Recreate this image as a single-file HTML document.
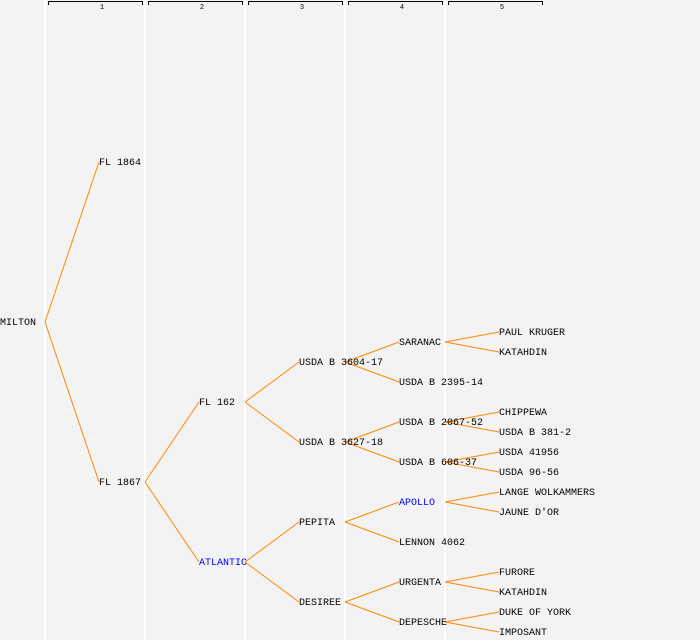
<!DOCTYPE html>
<html><head><style>body{margin:0;background:#f3f3f3}svg{display:block}</style></head><body>
<svg width="700" height="640" xmlns="http://www.w3.org/2000/svg" font-family="Liberation Mono, monospace" font-size="10">
<rect width="700" height="640" fill="#f3f3f3"/>
<g stroke="#ffffff" stroke-width="2">
<line x1="45" y1="0" x2="45" y2="640"/><line x1="145" y1="0" x2="145" y2="640"/><line x1="245" y1="0" x2="245" y2="640"/><line x1="345" y1="0" x2="345" y2="640"/><line x1="445" y1="0" x2="445" y2="640"/>
</g>
<g stroke="#000" fill="none" stroke-width="1">
<path d="M48.5 5V1.5H142.5V5"/><path d="M148.5 5V1.5H242.5V5"/><path d="M248.5 5V1.5H342.5V5"/><path d="M348.5 5V1.5H442.5V5"/><path d="M448.5 5V1.5H542.5V5"/>
</g>
<g font-size="7" text-anchor="middle">
<text x="102" y="9">1</text><text x="202" y="9">2</text><text x="302" y="9">3</text><text x="402" y="9">4</text><text x="502" y="9">5</text>
</g>
<g stroke="#ff8800" stroke-width="1" fill="none">
<path d="M45 322L99 162M45 322L99 482"/>
<path d="M145 482L199 402M145 482L199 562"/>
<path d="M245 402L299 362M245 402L299 442M245 562L299 522M245 562L299 602"/>
<path d="M345 362L399 342M345 362L399 382M345 442L399 422M345 442L399 462M345 522L399 502M345 522L399 542M345 602L399 582M345 602L399 622"/>
<path d="M445 342L499 332M445 342L499 352M445 422L499 412M445 422L499 432M445 462L499 452M445 462L499 472M445 502L499 492M445 502L499 512M445 582L499 572M445 582L499 592M445 622L499 612M445 622L499 632"/>
</g>
<g fill="#000" dominant-baseline="central" transform="translate(0,1.5)">
<text x="0" y="322">MILTON</text>
<text x="99" y="162">FL 1864</text><text x="99" y="482">FL 1867</text>
<text x="199" y="402">FL 162</text><text x="199" y="562" fill="#0000ff">ATLANTIC</text>
<text x="299" y="362">USDA B 3604-17</text><text x="299" y="442">USDA B 3627-18</text><text x="299" y="522">PEPITA</text><text x="299" y="602">DESIREE</text>
<text x="399" y="342">SARANAC</text><text x="399" y="382">USDA B 2395-14</text><text x="399" y="422">USDA B 2067-52</text><text x="399" y="462">USDA B 606-37</text><text x="399" y="502" fill="#0000ff">APOLLO</text><text x="399" y="542">LENNON 4062</text><text x="399" y="582">URGENTA</text><text x="399" y="622">DEPESCHE</text>
<text x="499" y="332">PAUL KRUGER</text><text x="499" y="352">KATAHDIN</text><text x="499" y="412">CHIPPEWA</text><text x="499" y="432">USDA B 381-2</text><text x="499" y="452">USDA 41956</text><text x="499" y="472">USDA 96-56</text><text x="499" y="492">LANGE WOLKAMMERS</text><text x="499" y="512">JAUNE D'OR</text><text x="499" y="572">FURORE</text><text x="499" y="592">KATAHDIN</text><text x="499" y="612">DUKE OF YORK</text><text x="499" y="632">IMPOSANT</text>
</g>
</svg>
</body></html>
